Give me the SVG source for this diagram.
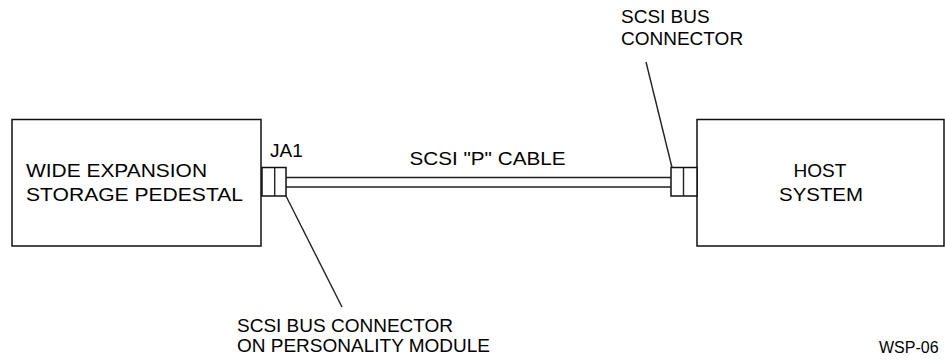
<svg xmlns="http://www.w3.org/2000/svg" width="945" height="362" viewBox="0 0 945 362">
<style>
.box{fill:#fff;stroke:#111;stroke-width:1.5}
.ln{fill:none;stroke:#222;stroke-width:1.4}
.t{font-family:"Liberation Sans",Arial,sans-serif;font-size:19px;fill:#000}
.s{font-family:"Liberation Sans",Arial,sans-serif;font-size:16px;fill:#000}
</style>
<rect width="945" height="362" fill="#fff"/>
<g id="pedestal">
<rect class="box" x="12" y="119.5" width="249" height="126.5"/>
<text class="t" x="26" y="177" textLength="181" lengthAdjust="spacingAndGlyphs">WIDE EXPANSION</text>
<text class="t" x="26" y="200.5" textLength="217" lengthAdjust="spacingAndGlyphs">STORAGE PEDESTAL</text>
</g>
<g id="host">
<rect class="box" x="697" y="119.5" width="247" height="126.5"/>
<text class="t" x="820" y="177" text-anchor="middle" textLength="53" lengthAdjust="spacingAndGlyphs">HOST</text>
<text class="t" x="821" y="201" text-anchor="middle" textLength="84" lengthAdjust="spacingAndGlyphs">SYSTEM</text>
</g>
<g id="ja1-connector">
<rect class="box" x="262" y="167.5" width="24" height="28.5"/>
<line class="ln" x1="274.7" y1="167.5" x2="274.7" y2="196"/>
<text class="t" x="270" y="157">JA1</text>
</g>
<g id="host-connector">
<rect class="box" x="671" y="167.5" width="26" height="28.5"/>
<line class="ln" x1="683.5" y1="167.5" x2="683.5" y2="196"/>
</g>
<g id="connectors">
<line class="ln" x1="286" y1="177.5" x2="671" y2="177.5"/>
<line class="ln" x1="286" y1="187" x2="671" y2="187"/>
<line class="ln" x1="286" y1="196" x2="342" y2="307"/>
<line class="ln" x1="672" y1="167.5" x2="646" y2="62"/>
</g>
<g id="labels">
<text class="t" x="409.5" y="165" textLength="156" lengthAdjust="spacingAndGlyphs">SCSI "P" CABLE</text>
<text class="t" x="621" y="23">SCSI BUS</text>
<text class="t" x="621" y="45">CONNECTOR</text>
<text class="t" x="237" y="332">SCSI BUS CONNECTOR</text>
<text class="t" x="237" y="352">ON PERSONALITY MODULE</text>
<text class="s" x="879" y="353">WSP-06</text>
</g>
</svg>
